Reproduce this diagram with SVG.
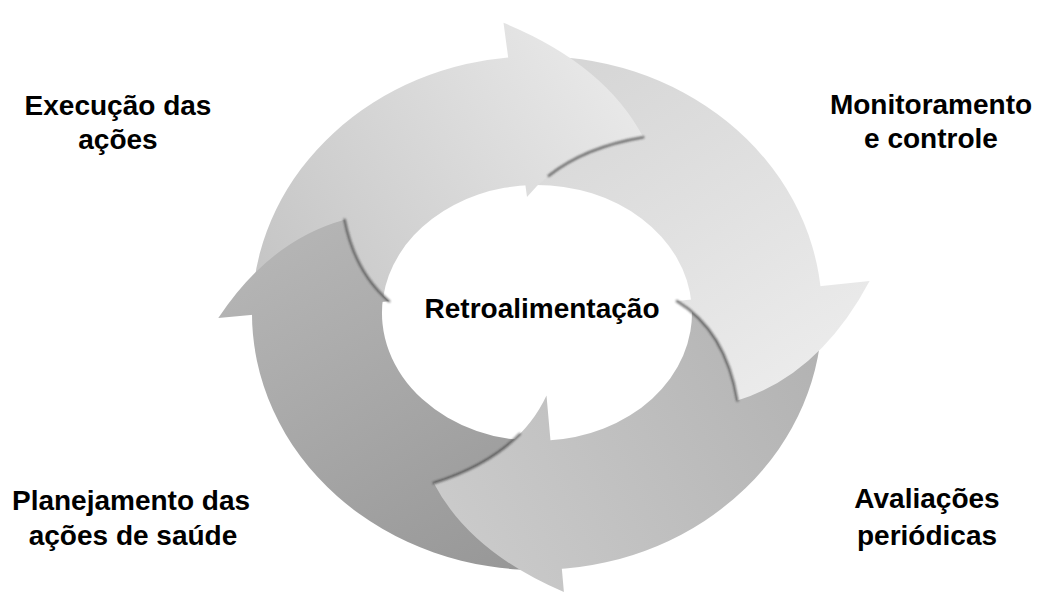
<svg xmlns="http://www.w3.org/2000/svg" width="1041" height="597" viewBox="0 0 1041 597">
  <defs>
    <style>
      .lbl { font-family: "Liberation Sans", Arial, sans-serif; font-weight: bold; font-size: 28px; fill: #000000; text-anchor: middle; }
      .streak { fill: none; stroke: #2e2e2e; stroke-width: 2.4; stroke-linecap: round; opacity: 0.65; }
    </style>
    <linearGradient id="gTop" gradientUnits="userSpaceOnUse" x1="260" y1="300" x2="640" y2="60">
      <stop offset="0" stop-color="#c4c4c4"/>
      <stop offset="1" stop-color="#ebebeb"/>
    </linearGradient>
    <linearGradient id="gRight" gradientUnits="userSpaceOnUse" x1="560" y1="80" x2="760" y2="400">
      <stop offset="0" stop-color="#d6d6d6"/>
      <stop offset="1" stop-color="#ebebeb"/>
    </linearGradient>
    <linearGradient id="gBottom" gradientUnits="userSpaceOnUse" x1="820" y1="330" x2="440" y2="520">
      <stop offset="0" stop-color="#b2b2b2"/>
      <stop offset="1" stop-color="#cbcbcb"/>
    </linearGradient>
    <linearGradient id="gLeft" gradientUnits="userSpaceOnUse" x1="540" y1="560" x2="340" y2="220">
      <stop offset="0" stop-color="#979797"/>
      <stop offset="1" stop-color="#b4b4b4"/>
    </linearGradient>
    <filter id="soft" x="-20%" y="-20%" width="140%" height="140%">
      <feGaussianBlur stdDeviation="1.1"/>
    </filter>
  </defs>

  <rect x="0" y="0" width="1041" height="597" fill="#ffffff"/>

  <g id="connectors">
    <!-- arrow bodies -->
    <g id="body-top"><path fill="url(#gTop)" d="M 252.4 299.6 A 285 257 0 0 1 517.1 56.6 L 531.6 185.1 A 155 128 0 0 0 383.15 297.4 Z"/></g>
    <g id="body-right"><path fill="url(#gRight)" d="M 527.05 56.2 A 285 257 0 0 1 821.3 295.1 L 691.6 304.1 A 155 128 0 0 0 534.3 185.0 Z"/></g>
    <g id="body-bottom"><path fill="url(#gBottom)" d="M 822.0 308.5 A 285 257 0 0 1 551.9 569.6 L 545.1 440.8 A 155 128 0 0 0 691.8 306.3 Z"/></g>
    <g id="body-left"><path fill="url(#gLeft)" d="M 547.0 569.8 A 285 257 0 0 1 252.0 308.5 L 383.3 296.3 A 155 128 0 0 0 542.4 440.9 Z"/></g>
    <!-- arrow heads -->
    <g id="head-left">
      <path fill="url(#gLeft)" d="M 218.3 318.1 Q 269.75 240.3 344.6 219.7 Q 355.1 272.4 389.2 301.3 Z"/>
      <path class="streak" filter="url(#soft)" d="M 344.6 219.7 Q 355.1 272.4 389.2 301.3"/>
    </g>
    <g id="head-top">
      <path fill="url(#gTop)" d="M 503.5 22.8 Q 604.8 64.15 643.3 137.3 Q 565.65 150.3 527.0 196.9 Z"/>
      <path class="streak" filter="url(#soft)" d="M 643.3 137.3 Q 585.06 147.05 548.7 175.8"/>
    </g>
    <g id="head-right">
      <path fill="url(#gRight)" d="M 869.6 281.0 Q 819.9 374.6 737.4 400.6 Q 725.65 330.35 676.9 301.1 Z"/>
      <path class="streak" filter="url(#soft)" d="M 737.4 400.6 Q 725.65 330.35 676.9 301.1"/>
    </g>
    <g id="head-bottom">
      <path fill="url(#gBottom)" d="M 563.9 592.1 Q 469.8 551.85 433.7 483.0 Q 518.3 456.55 546.5 395.5 Z"/>
      <path class="streak" filter="url(#soft)" d="M 433.7 483.0 Q 488.7 465.8 519.8 434"/>
    </g>
  </g>

  <g id="node-center">
    <text class="lbl" x="542" y="318">Retroalimentação</text>
  </g>
  <g id="node-execucao">
    <text class="lbl" x="118" y="115">Execução das</text>
    <text class="lbl" x="118" y="149">ações</text>
  </g>
  <g id="node-monitoramento">
    <text class="lbl" x="931" y="114">Monitoramento</text>
    <text class="lbl" x="931" y="148">e controle</text>
  </g>
  <g id="node-planejamento">
    <text class="lbl" x="131" y="510">Planejamento das</text>
    <text class="lbl" x="133" y="545">ações de saúde</text>
  </g>
  <g id="node-avaliacoes">
    <text class="lbl" x="927" y="508">Avaliações</text>
    <text class="lbl" x="927" y="545">periódicas</text>
  </g>
</svg>
